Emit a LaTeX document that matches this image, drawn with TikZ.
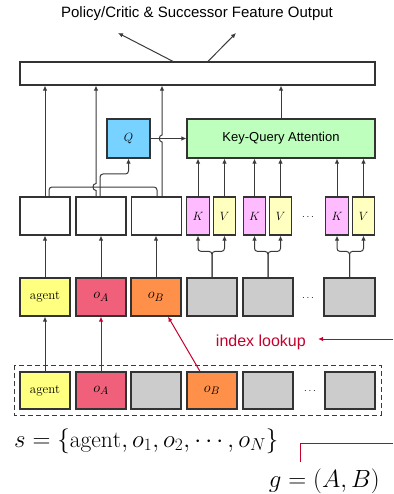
\documentclass[tikz,border=0pt]{standalone}
\usepackage{fontspec}
\newfontfamily\hv{Liberation Sans}
\usetikzlibrary{arrows.meta}
\definecolor{bordc}{HTML}{333333}
\definecolor{linec}{HTML}{3A3A3A}
\definecolor{agentc}{HTML}{FFFF80}
\definecolor{oAc}{HTML}{F0607A}
\definecolor{oBc}{HTML}{FF904A}
\definecolor{grayc}{HTML}{CCCCCC}
\definecolor{kc}{HTML}{FFBBFF}
\definecolor{vc}{HTML}{FFFFC0}
\definecolor{qc}{HTML}{77D2FF}
\definecolor{attc}{HTML}{BEFFBE}
\definecolor{redc}{HTML}{C4002C}
\tikzset{
  bx/.style={draw=bordc, line width=1.2pt, minimum width=50pt, minimum height=38pt, inner sep=0pt, anchor=center},
  kvbox/.style={bx, minimum width=22.5pt},
  conn/.style={draw=linec, line width=1pt, -{Latex[length=5pt,width=4.5pt]}},
  plain/.style={draw=linec, line width=1pt},
  redconn/.style={draw=redc, line width=1pt, -{Latex[length=5pt,width=4.5pt]}},
  redplain/.style={draw=redc, line width=1pt},
  lbl/.style={font=\fontsize{13}{13}\selectfont},
  dotsl/.style={font=\fontsize{10}{10}\selectfont},
}
\begin{document}
\begin{tikzpicture}[x=1pt,y=-1pt]
\useasboundingbox (0,0) rectangle (393,494);
% title
\node[font=\hv\fontsize{15}{15}\selectfont] (title) at (197,14) {Policy/Critic \& Successor Feature Output};
% top bar
\node[bx, minimum width=355pt, minimum height=23pt] (top) at (197.5,73.5) {};
\coordinate (outL) at (118,33);
\coordinate (outR) at (236,33);
\draw[conn] ([xshift=-24.5pt]top.north) -- (outL);
\draw[conn] ([xshift=10.5pt]top.north) -- (outR);
% Q and attention
\node[bx, fill=qc, minimum width=43pt, minimum height=39pt, lbl] (Q) at (128.5,138.5) {$Q$};
\node[bx, fill=attc, minimum width=188pt, minimum height=39pt, font=\hv\fontsize{13}{13}\selectfont] (att) at (281,138.5) {Key-Query Attention};
% row 3
\node[bx] (w1) at (45,216) {};
\node[bx] (w2) at (101,216) {};
\node[bx] (w3) at (156.5,216) {};
\node[kvbox, fill=kc, lbl] (k1) at (198,216) {$K$};
\node[kvbox, fill=vc, lbl] (v1) at (224.5,216) {$V$};
\node[kvbox, fill=kc, lbl] (k2) at (254.5,216) {$K$};
\node[kvbox, fill=vc, lbl] (v2) at (280.5,216) {$V$};
\node[dotsl] (d3) at (308,217) {$\cdots$};
\node[kvbox, fill=kc, lbl] (k3) at (337,216) {$K$};
\node[kvbox, fill=vc, lbl] (v3) at (363.5,216) {$V$};
% row 2
\node[bx, fill=agentc, lbl] (a2) at (45,297) {agent};
\node[bx, fill=oAc, font=\fontsize{15}{15}\selectfont] (oa2) at (101,297) {$o_A$};
\node[bx, fill=oBc, font=\fontsize{15}{15}\selectfont] (ob2) at (156,297) {$o_B$};
\node[bx, fill=grayc] (g1) at (212,297) {};
\node[bx, fill=grayc] (g2) at (268,297) {};
\node[dotsl] (d2) at (308,298) {$\cdots$};
\node[bx, fill=grayc, minimum width=51pt] (g3) at (349.5,297) {};
% bottom row
\draw[linec, line width=1pt, dash pattern=on 5pt off 3pt] (14,365) rectangle (381,415);
\node[bx, fill=agentc, lbl, minimum height=37pt] (ab) at (45,390.5) {agent};
\node[bx, fill=oAc, minimum height=37pt, font=\fontsize{15}{15}\selectfont] (oab) at (101,390.5) {$o_A$};
\node[bx, fill=grayc, minimum height=37pt] (gb1) at (156,390.5) {};
\node[bx, fill=oBc, minimum height=37pt, font=\fontsize{15}{15}\selectfont] (obb) at (212,390.5) {$o_B$};
\node[bx, fill=grayc, minimum height=37pt] (gb2) at (268,390.5) {};
\node[dotsl] (db) at (310,391) {$\cdots$};
\node[bx, fill=grayc, minimum height=37pt] (gb3) at (350,390.5) {};
% texts
\node[anchor=base west, inner sep=0pt, font=\fontsize{23.5}{23.5}\selectfont] (stext) at (14,447) {$s=\{\mathrm{agent},o_1,o_2,\cdots,o_N\}$};
\node[anchor=base east, inner sep=0pt, font=\fontsize{23}{23}\selectfont] (gtext) at (380,487) {$g=(A,B)$};
\node[anchor=base east, inner sep=0pt, text=redc, font=\hv\fontsize{16}{16}\selectfont] (lookup) at (306,346) {index lookup};
% connectors row3 -> top
\draw[conn] (w1.north) -- (w1.north |- top.south);
\draw[conn] ([xshift=-5pt]w2.north) -- (96,190.5) .. controls (92,190.5) and (92,183.5) .. (96,183.5) -- ([xshift=-5pt]w2.north |- top.south);
\draw[conn] ([xshift=5.5pt]w3.north) -- (162,142) .. controls (158.5,142) and (158.5,135) .. (162,135) -- ([xshift=5.5pt]w3.north |- top.south);
% merge to Q
\draw[plain, rounded corners=3pt] ([xshift=4pt]w1.north) -- (49,187) -- (157,187) -- ([xshift=0.5pt]w3.north);
\draw[conn, rounded corners=3pt] ([xshift=-1pt]w2.north) -- (100,174) -- (Q.south |- 0,174) -- (Q.south);
% Q -> att -> top
\draw[conn] (Q.east) -- (att.west);
\draw[conn] (att.north) -- (att.north |- top.south);
% K V -> att
\foreach \n in {k1,v1,k2,v2,k3,v3}{
  \draw[conn] (\n.north) -- (\n.north |- att.south);
}
% forks
\foreach \g/\k/\v in {g1/k1/v1,g2/k2/v2,g3/k3/v3}{
  \draw[conn, rounded corners=3pt] (\g.north) -- ++(0,-26) -| (\k.south);
  \draw[conn, rounded corners=3pt] (\g.north) -- ++(0,-26) -| (\v.south);
}
% row2 -> row3
\draw[conn] (a2.north) -- (w1.south);
\draw[conn] (oa2.north) -- (w2.south);
\draw[conn] (ob2.north) -- (ob2.north |- w3.south);
% bottom -> row2
\draw[conn] (ab.north) -- (a2.south);
\draw[redconn] (oab.north) -- (oa2.south);
\draw[redconn] ([xshift=-12pt]obb.north) -- ([xshift=12pt]ob2.south);
% red index lookup path
\coordinate (gs) at (300,462);
\coordinate (ge) at (393,443);
\coordinate (ls) at (393,339);
\draw[redplain] (gs) |- (ge);
\draw[redconn] (ls) -- ([xshift=12pt]lookup.east |- ls);
\end{tikzpicture}
\end{document}
